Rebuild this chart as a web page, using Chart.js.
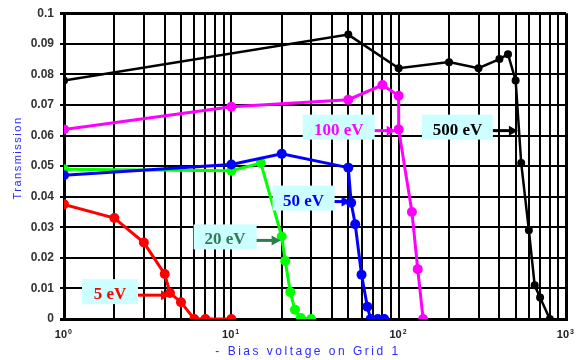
<!DOCTYPE html>
<html lang="en">
<head>
  <meta charset="UTF-8" />
  <title>Transmission vs bias voltage</title>
  <script src="https://cdn.jsdelivr.net/npm/chart.js"></script>
  <style>
    html, body { margin: 0; padding: 0; background: #fff; }
    #wrap { width: 578px; height: 360px; }
  </style>
</head>
<body>
  <div id="wrap"><canvas id="chart" width="578" height="360"></canvas></div>

  <script>
    // Data (x = - bias voltage, y = transmission)
    const bias500 = [1, 50, 100, 200, 300, 400, 450, 500, 540, 600, 650, 700, 800];
    const trans500 = [0.078, 0.093, 0.082, 0.084, 0.082, 0.085, 0.0866, 0.078, 0.051, 0.029, 0.011, 0.007, 0];

    const bias100 = [1, 10, 50, 80, 100, 100, 120, 130, 140];
    const trans100 = [0.062, 0.0694, 0.0717, 0.0765, 0.073, 0.062, 0.035, 0.0163, 0];

    const bias50 = [1, 10, 20, 50, 52, 55, 60, 65, 68, 75, 82];
    const trans50 = [0.047, 0.0505, 0.054, 0.0495, 0.038, 0.031, 0.0145, 0.004, 0, 0, 0];

    const bias20 = [1, 10, 15, 20, 21, 22.5, 24, 26, 30];
    const trans20 = [0.049, 0.0485, 0.051, 0.027, 0.019, 0.0088, 0.003, 0.0003, 0];

    const bias5 = [1, 2, 3, 4, 4.3, 5, 6, 7, 10];
    const trans5 = [0.0375, 0.033, 0.025, 0.0147, 0.0085, 0.0055, 0, 0, 0];

    // Axis ticks
    const xGridValues = [1, 2, 3, 4, 5, 6, 7, 8, 9,
                         10, 20, 30, 40, 50, 60, 70, 80, 90,
                         100, 200, 300, 400, 500, 600, 700, 800, 900, 1000];
    const xLabelPowers = [0, 1, 2, 3];
    const yTickValues = [0, 0.01, 0.02, 0.03, 0.04, 0.05, 0.06, 0.07, 0.08, 0.09, 0.1];
    const yTickLabels = ['0', '0.01', '0.02', '0.03', '0.04', '0.05', '0.06', '0.07', '0.08', '0.09', '0.1'];

    // Callouts (text + where the arrow points, in data units)
    const calloutText = ['500 eV', '100 eV', '50 eV', '20 eV', '5 eV'];
    const calloutTipX = [516, 96, 51.6, 19.7, 4.3];
    const calloutTipY = [0.0616, 0.0616, 0.0384, 0.0257, 0.0078];

    // styling for the callouts
    const calloutColor = ['#000000', '#ff00ff', '#0000ff', '#2e7d50', '#ff0000'];
    const calloutBoxW = [71, 72, 62, 63, 56];
    const calloutGap = [25, 21, 16, 24, 32];

    function pts(xs, ys) {
      return xs.map((x, i) => ({ x: x, y: ys[i] }));
    }

    function series(label, xs, ys, color, w, r) {
      return {
        label: label,
        data: pts(xs, ys),
        borderColor: color,
        backgroundColor: color,
        borderWidth: w,
        pointRadius: r,
        pointHoverRadius: r,
        pointBorderWidth: 0,
        tension: 0
      };
    }

    // titles, power-of-ten labels
    const decorPlugin = {
      id: 'decor',
      afterDraw(chart) {
        const ctx = chart.ctx;
        const xs = chart.scales.x;
        const area = chart.chartArea;
        ctx.save();

        // x tick labels 10^n
        ctx.fillStyle = '#222';
        xLabelPowers.forEach(p => {
          const px = xs.getPixelForValue(Math.pow(10, p));
          ctx.font = 'bold 11px "Liberation Sans"';
          ctx.textAlign = 'right';
          ctx.textBaseline = 'alphabetic';
          ctx.fillText('10', px + 3, area.bottom + 19);
          ctx.font = 'bold 7px "Liberation Sans"';
          ctx.textAlign = 'left';
          ctx.fillText(String(p), px + 4, area.bottom + 15);
        });

        // axis titles
        ctx.fillStyle = '#2b2bff';
        ctx.font = '12px "Liberation Sans"';
        ctx.letterSpacing = '2.5px';
        ctx.textAlign = 'center';
        ctx.textBaseline = 'alphabetic';
        ctx.fillText('- Bias voltage on Grid 1', area.left + 244, area.bottom + 36);

        ctx.font = '11px "Liberation Sans"';
        ctx.letterSpacing = '1.5px';
        ctx.translate(18, 158);
        ctx.rotate(-Math.PI / 2);
        ctx.textBaseline = 'middle';
        ctx.fillText('Transmission', 0, 0);
        ctx.restore();
      }
    };

    // cyan callout boxes with arrows
    const calloutPlugin = {
      id: 'callouts',
      afterDatasetsDraw(chart) {
        const ctx = chart.ctx;
        const xs = chart.scales.x, ys = chart.scales.y;
        ctx.save();
        calloutText.forEach((txt, i) => {
          const tx = xs.getPixelForValue(calloutTipX[i]);
          const ty = ys.getPixelForValue(calloutTipY[i]);
          const right = tx - calloutGap[i];
          const left = right - calloutBoxW[i];
          const top = ty - 16;
          const h = 25;

          ctx.fillStyle = '#ccffff';
          ctx.fillRect(left, top, calloutBoxW[i], h);

          ctx.fillStyle = calloutColor[i];
          ctx.font = 'bold 17px "Liberation Serif"';
          ctx.textAlign = 'center';
          ctx.textBaseline = 'alphabetic';
          ctx.fillText(txt, (left + right) / 2, top + 20);

          // arrow
          ctx.strokeStyle = calloutColor[i];
          ctx.lineWidth = 3;
          ctx.beginPath();
          ctx.moveTo(right, ty);
          ctx.lineTo(tx - 7, ty);
          ctx.stroke();
          ctx.beginPath();
          ctx.moveTo(tx, ty);
          ctx.lineTo(tx - 9, ty - 5);
          ctx.lineTo(tx - 9, ty + 5);
          ctx.closePath();
          ctx.fill();
        });
        ctx.restore();
      }
    };

    new Chart(document.getElementById('chart'), {
      type: 'line',
      data: {
        datasets: [
          series('500 eV', bias500, trans500, '#000000', 2.5, 4),
          series('100 eV', bias100, trans100, '#ff00ff', 3, 5),
          series('50 eV', bias50, trans50, '#0000ff', 3, 5),
          series('20 eV', bias20, trans20, '#00ff00', 3, 5),
          series('5 eV', bias5, trans5, '#ff0000', 3, 5)
        ]
      },
      options: {
        responsive: false,
        animation: false,
        events: [],
        layout: { padding: { top: 12, right: 12, left: 0, bottom: 0 } },
        plugins: {
          legend: { display: false },
          tooltip: { enabled: false }
        },
        scales: {
          x: {
            type: 'logarithmic',
            min: 1,
            max: 1000,
            afterBuildTicks(scale) {
              scale.ticks = xGridValues.map(v => ({ value: v }));
            },
            afterFit(scale) { scale.height = 41; },
            ticks: { display: false },
            grid: {
              color: '#000',
              lineWidth: c => (c.tick && (c.tick.value === 1 || c.tick.value === 1000)) ? 3 : 2,
              drawTicks: false
            },
            border: { color: '#000', width: 3 }
          },
          y: {
            min: 0,
            max: 0.1,
            afterBuildTicks(scale) {
              scale.ticks = yTickValues.map(v => ({ value: v }));
            },
            afterFit(scale) { scale.width = 64; },
            ticks: {
              padding: 6,
              color: '#333',
              font: { family: 'Liberation Sans', size: 12, weight: 'bold' },
              callback: (v, i) => yTickLabels[i]
            },
            grid: {
              color: '#000',
              lineWidth: c => (c.tick && (c.tick.value === 0 || c.tick.value === 0.1)) ? 3 : 2,
              tickLength: 4
            },
            border: { color: '#000', width: 3 }
          }
        }
      },
      plugins: [calloutPlugin, decorPlugin]
    });
  </script>
</body>
</html>
